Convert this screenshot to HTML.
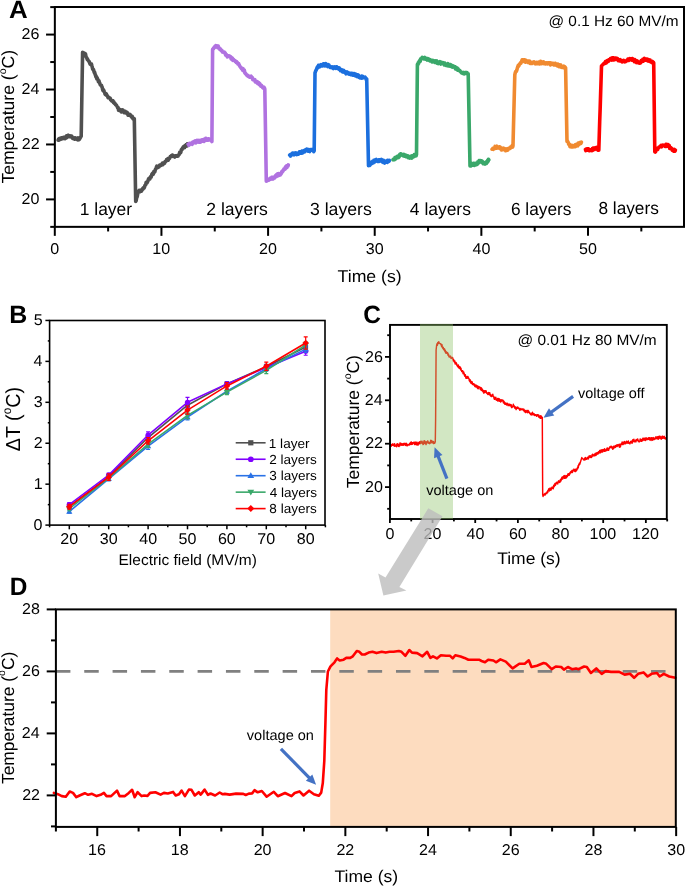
<!DOCTYPE html>
<html><head><meta charset="utf-8"><style>
html,body{margin:0;padding:0;background:#fff;width:685px;height:887px;overflow:hidden}
svg{display:block;will-change:transform}
text{font-family:"Liberation Sans",sans-serif;fill:#000;text-rendering:geometricPrecision}
</style></head><body>
<svg width="685" height="887" viewBox="0 0 685 887">
<rect width="685" height="887" fill="#fff"/>
<path d="M58.1,140.1 L58.52,139.13 L58.95,140.2 L59.38,138.67 L59.8,139.65 L60.23,139.11 L60.65,138.24 L61.08,139.18 L61.5,137.92 L61.93,138.74 L62.35,137.73 L62.78,137.65 L63.2,138.5 L63.61,137.38 L64.01,137.41 L64.42,138.17 L64.83,138.72 L65.23,137.62 L65.64,136.97 L66.05,138.15 L66.45,135.72 L66.86,137.5 L67.27,135.96 L67.67,135.44 L68.08,135.2 L68.49,135.49 L68.89,136.53 L69.3,135.6 L69.71,136.09 L70.12,136.51 L70.53,136.16 L70.94,136.87 L71.35,136 L71.76,136.28 L72.17,136.92 L72.58,138.35 L72.99,138.04 L73.4,138.5 L73.81,138.38 L74.21,138 L74.62,139.18 L75.03,138.94 L75.43,137.84 L75.84,138.62 L76.25,138.49 L76.65,139.37 L77.06,139.11 L77.47,138.14 L77.87,139.89 L78.28,137.91 L78.69,138.72 L79.09,139.63 L79.5,139.1 L81.2,136.1 L82.6,52.3 L84.6,53.3 L85.04,54.14 L85.49,53.94 L85.93,56.32 L86.37,57.42 L86.81,57.83 L87.26,59.43 L87.7,59.4 L88.11,60.48 L88.52,60.85 L88.93,61.42 L89.34,61.73 L89.75,63.27 L90.16,64.13 L90.57,63.61 L90.98,64.67 L91.39,63.84 L91.8,65.5 L92.21,66.98 L92.62,68.94 L93.03,69.66 L93.44,69.5 L93.85,70.88 L94.26,72.68 L94.67,72.26 L95.08,74.45 L95.49,74.87 L95.9,76.8 L96.33,76.42 L96.75,78.81 L97.18,77.96 L97.6,78.93 L98.03,79.95 L98.45,81.79 L98.88,80.58 L99.3,82.14 L99.72,83.07 L100.15,84.55 L100.58,85.08 L101,85 L101.41,85.39 L101.82,86.64 L102.23,87.42 L102.64,89.6 L103.05,90.7 L103.46,89.68 L103.87,90.66 L104.28,91.72 L104.69,92.64 L105.1,94.2 L105.52,94.75 L105.95,94.3 L106.38,94.01 L106.8,95.34 L107.22,95.55 L107.65,96.36 L108.08,97.62 L108.5,97.32 L108.92,97.24 L109.35,97.82 L109.78,98.29 L110.2,98.2 L110.61,99.68 L111.02,99.91 L111.43,100.66 L111.84,100.99 L112.25,100.54 L112.66,101.08 L113.07,100.89 L113.48,102.68 L113.89,101.83 L114.3,103.4 L114.72,103.29 L115.15,103.77 L115.58,104.79 L116,104.69 L116.42,105.16 L116.85,106.11 L117.28,106.59 L117.7,107.81 L118.12,107.59 L118.55,110.22 L118.98,110.18 L119.4,110.5 L119.81,110.18 L120.21,110.27 L120.62,109.73 L121.03,111.52 L121.43,111.91 L121.84,110.7 L122.25,110.79 L122.65,109.97 L123.06,110.24 L123.47,111.05 L123.87,111.1 L124.28,112.69 L124.69,111.32 L125.09,111.22 L125.5,112.6 L125.92,112.92 L126.35,112.25 L126.78,113.45 L127.2,112.46 L127.62,113.92 L128.05,115.25 L128.47,115.22 L128.9,115.07 L129.32,114.28 L129.75,114.78 L130.17,114.55 L130.6,115.6 L131.01,116.02 L131.42,116.96 L131.83,116.22 L132.24,116.31 L132.66,118.07 L133.07,118.83 L133.48,118.86 L133.89,119.09 L134.3,118.7 L135.7,201.5 L136.14,200.6 L136.59,197.9 L137.03,197.13 L137.47,195.27 L137.91,193.01 L138.36,191.54 L138.8,191.2 L139.21,190.42 L139.62,191.26 L140.03,191.7 L140.44,190.27 L140.85,191.25 L141.26,191.17 L141.67,190.89 L142.08,189.28 L142.49,188.73 L142.9,189.2 L143.31,187.74 L143.71,187.99 L144.12,187.9 L144.53,187.01 L144.93,185.39 L145.34,185.05 L145.75,184.65 L146.15,182.25 L146.56,183.03 L146.97,183.02 L147.37,182.11 L147.78,181.42 L148.19,180.16 L148.59,178.84 L149,179 L149.41,179.16 L149.82,179.02 L150.23,177.08 L150.64,176.53 L151.05,177.29 L151.46,176.2 L151.87,174.31 L152.28,173.65 L152.69,173.15 L153.1,174.4 L153.51,173.49 L153.92,171.23 L154.33,172.19 L154.74,171.89 L155.15,170.44 L155.56,169.03 L155.97,168.84 L156.38,167.16 L156.79,166.21 L157.2,166.7 L157.61,166.6 L158.02,167.42 L158.43,166.06 L158.84,166.95 L159.25,166.68 L159.66,165.04 L160.07,164.98 L160.48,164.92 L160.89,164.63 L161.3,165.3 L161.71,164.17 L162.12,164.2 L162.53,163.16 L162.94,164.68 L163.35,162.99 L163.76,162.9 L164.17,162.85 L164.58,163.27 L164.99,161.76 L165.4,161.6 L165.81,161.38 L166.21,161.07 L166.62,159.56 L167.03,160.28 L167.43,159.36 L167.84,158.64 L168.25,160.25 L168.65,158.34 L169.06,158.54 L169.47,158.63 L169.87,157.71 L170.28,156.64 L170.69,156.58 L171.09,156.15 L171.5,155.5 L171.91,155.72 L172.31,155.05 L172.72,155.19 L173.13,156.46 L173.53,155.9 L173.94,156.1 L174.35,156.65 L174.75,157.02 L175.16,155.82 L175.57,156.15 L175.97,155.82 L176.38,155.76 L176.79,156.11 L177.19,155.46 L177.6,155.5 L178.01,156.02 L178.43,154.9 L178.84,154.79 L179.25,154.41 L179.67,152.23 L180.08,152.42 L180.49,152.8 L180.91,152 L181.32,149.76 L181.73,149.17 L182.15,149.38 L182.56,147.94 L182.97,147.79 L183.39,146.83 L183.8,147.3 L184.2,147.67 L184.6,147.63 L185,145.54 L185.4,146.58 L185.8,146.13 L186.2,144.58 L186.6,146.05 L187,145.94 L187.4,143.84 L187.8,144.2" fill="none" stroke="#505050" stroke-width="3.6" stroke-linejoin="round" stroke-linecap="round" />
<path d="M188.1,144.2 L188.5,144.12 L188.91,145.29 L189.31,144.86 L189.72,143.21 L190.12,143.81 L190.53,143.97 L190.94,143.5 L191.34,143.11 L191.75,143.36 L192.15,144.29 L192.55,142.38 L192.96,143.43 L193.36,142.94 L193.77,141.7 L194.17,142.22 L194.58,142.7 L194.98,142.21 L195.39,140.91 L195.79,142.89 L196.2,141.5 L196.6,140.9 L197.01,140.32 L197.41,142.06 L197.81,140.81 L198.22,140.43 L198.62,141.1 L199.03,142.24 L199.43,141.98 L199.83,140.6 L200.24,140.28 L200.64,142.06 L201.04,141.17 L201.45,141.42 L201.85,139.9 L202.26,139.76 L202.66,141.21 L203.06,140.52 L203.47,139.62 L203.87,141.49 L204.27,140.56 L204.68,140.75 L205.08,138.83 L205.49,140.47 L205.89,138.37 L206.29,140.08 L206.7,138.89 L207.1,138.8 L207.5,139.15 L207.9,140.27 L208.3,138.92 L208.7,138.81 L209.1,139.99 L209.5,139.52 L209.9,139.44 L210.3,139.79 L210.7,139.75 L211.1,140.33 L211.5,140.82 L211.9,141.5 L212.6,49.4 L213,49.7 L213.4,48.24 L213.8,48.42 L214.2,47.32 L214.6,47.4 L215,46.28 L215.4,46.51 L215.8,45.62 L216.2,47.01 L216.6,46.25 L217,45.8 L217.41,46.15 L217.82,47.66 L218.23,46.08 L218.64,48.2 L219.05,47.68 L219.45,48.24 L219.86,49.47 L220.27,48.82 L220.68,49.5 L221.09,50.34 L221.5,50.3 L221.92,50.35 L222.33,51.94 L222.75,52.07 L223.16,52.32 L223.58,52.19 L223.99,52.47 L224.41,52.19 L224.82,52.8 L225.24,53.08 L225.65,55.11 L226.07,54.37 L226.48,54.57 L226.9,55.8 L227.32,56.86 L227.75,56.54 L228.17,55.78 L228.59,55.85 L229.02,56.14 L229.44,56.7 L229.86,56.15 L230.29,57.01 L230.71,56.83 L231.14,58.87 L231.56,59.26 L231.98,58.6 L232.41,58.24 L232.83,60.33 L233.25,59.12 L233.68,59.59 L234.1,60.3 L234.52,60.43 L234.93,61.07 L235.35,61.55 L235.76,61.24 L236.18,62.39 L236.59,61.6 L237.01,62.64 L237.42,62.64 L237.84,63.8 L238.25,63.35 L238.67,63.72 L239.08,64.81 L239.5,65.7 L239.91,66.21 L240.31,67.18 L240.72,67.4 L241.12,67.98 L241.53,68.81 L241.93,68.08 L242.34,68.37 L242.74,70.39 L243.15,68.82 L243.56,70.76 L243.96,71.13 L244.37,70.25 L244.77,72.71 L245.18,73.4 L245.58,73.33 L245.99,74.14 L246.39,74.89 L246.8,74.7 L247.22,74.94 L247.65,75.97 L248.07,76.13 L248.49,76.41 L248.92,76.07 L249.34,77.04 L249.76,76.77 L250.19,77.03 L250.61,76.23 L251.04,76.16 L251.46,76.8 L251.88,77.75 L252.31,77.54 L252.73,79.7 L253.15,79.44 L253.58,80 L254,80.1 L254.42,80.41 L254.84,79.58 L255.26,81.82 L255.68,82.03 L256.1,81.78 L256.52,82.19 L256.94,82.82 L257.36,81.69 L257.78,83.57 L258.2,82.67 L258.62,82.51 L259.04,83.24 L259.46,84.62 L259.88,83.63 L260.3,84.6 L260.71,86.15 L261.12,85.4 L261.53,85.55 L261.94,86.19 L262.35,87.09 L262.75,87.7 L263.16,87.74 L263.57,88.22 L263.98,87.27 L264.39,87.84 L264.8,89.1 L266.3,181.2 L266.72,180.47 L267.13,180.84 L267.55,179.25 L267.97,179.1 L268.38,179.34 L268.8,180.05 L269.22,179.84 L269.63,179.54 L270.05,178.36 L270.47,178.75 L270.88,178.47 L271.3,178.32 L271.72,177.34 L272.13,179.05 L272.55,177.23 L272.97,178.95 L273.38,178.7 L273.8,177.5 L274.22,177.94 L274.65,177.97 L275.07,176.4 L275.49,175.64 L275.92,175.18 L276.34,176.62 L276.76,174.53 L277.19,175.09 L277.61,173.83 L278.04,174.65 L278.46,175.58 L278.88,173.51 L279.31,175.06 L279.73,174.22 L280.15,175.02 L280.58,174.49 L281,173.9 L281.41,173.31 L281.81,171.64 L282.22,171.03 L282.62,171.64 L283.03,170.98 L283.43,170.07 L283.84,169.12 L284.24,169.05 L284.65,168.42 L285.06,169.24 L285.46,166.79 L285.87,168.14 L286.27,167.92 L286.68,165.75 L287.08,167.24 L287.49,166.29 L287.89,166.3 L288.3,164.9" fill="none" stroke="#b072e0" stroke-width="3.6" stroke-linejoin="round" stroke-linecap="round" />
<path d="M289.6,155.1 L290.02,154.71 L290.43,156.03 L290.85,154.91 L291.26,154.23 L291.68,154.26 L292.09,153.76 L292.51,153.08 L292.93,153.07 L293.34,154.7 L293.76,153.29 L294.17,154.81 L294.59,153.11 L295.01,153.11 L295.42,153.65 L295.84,152.84 L296.25,153.23 L296.67,154.59 L297.08,154.37 L297.5,153.4 L297.9,154.29 L298.3,154.25 L298.7,153.21 L299.1,153.52 L299.5,151.81 L299.9,153.34 L300.3,152.57 L300.7,153.19 L301.1,152.83 L301.5,151.86 L301.9,151.19 L302.3,153.08 L302.7,150.95 L303.1,151.56 L303.5,151.04 L303.9,150.71 L304.3,151.55 L304.7,151.91 L305.1,149.97 L305.5,150.71 L305.9,149.64 L306.3,149.9 L306.72,149.16 L307.13,149.2 L307.55,149.36 L307.96,151.09 L308.38,150.16 L308.79,149.55 L309.21,151.25 L309.63,151.52 L310.04,150.27 L310.46,149.56 L310.87,149.72 L311.29,149.51 L311.71,150.14 L312.12,149.57 L312.54,149.95 L312.95,150.03 L313.37,150.81 L313.78,151.6 L314.2,150.7 L315,72.8 L315.45,71.56 L315.9,70.53 L316.35,69.76 L316.8,68.37 L317.25,67.25 L317.7,66.6 L318.11,67.56 L318.53,65.37 L318.94,66.12 L319.36,66.25 L319.77,66.65 L320.19,64.93 L320.6,64.9 L321.01,64.68 L321.43,64.88 L321.84,64.83 L322.26,65.96 L322.67,65.71 L323.09,65.78 L323.5,63.74 L323.91,63.76 L324.33,65.39 L324.74,65.84 L325.16,64.83 L325.57,65.1 L325.99,63.7 L326.4,64.9 L326.81,65.83 L327.23,66.04 L327.64,66.47 L328.05,64.87 L328.47,64.68 L328.88,64.94 L329.29,65.96 L329.71,66.52 L330.12,67.35 L330.53,67.02 L330.95,67.04 L331.36,67.53 L331.77,66.99 L332.19,67.42 L332.6,67.5 L333.01,66.89 L333.43,68.58 L333.84,67.96 L334.26,67.17 L334.67,66.79 L335.09,67.12 L335.5,68.08 L335.91,68.27 L336.33,66.89 L336.74,66.83 L337.16,68.04 L337.57,68.4 L337.99,68.14 L338.4,67.96 L338.81,69.07 L339.23,67.87 L339.64,68.78 L340.06,69.37 L340.47,70.78 L340.89,70.24 L341.3,70.1 L341.7,69.7 L342.1,69.96 L342.5,71.91 L342.9,71.52 L343.3,70.8 L343.7,70.35 L344.1,71.73 L344.5,72.39 L344.9,72.01 L345.3,71.85 L345.7,73.07 L346.1,73.78 L346.5,72.2 L346.9,71.83 L347.3,72.65 L347.7,72.95 L348.1,73.67 L348.5,72.6 L348.9,74.13 L349.3,74.09 L349.7,73.62 L350.1,73.7 L350.51,73.32 L350.93,74.6 L351.34,73.26 L351.76,73.3 L352.17,74.66 L352.59,73.61 L353,75.26 L353.41,74.23 L353.83,73.56 L354.24,73.71 L354.66,74.3 L355.07,75.08 L355.49,75.94 L355.9,74.19 L356.31,74.96 L356.73,74.71 L357.14,76.72 L357.56,74.9 L357.97,74.86 L358.39,75.06 L358.8,76.3 L359.22,77.33 L359.63,77.09 L360.05,77.84 L360.46,77.79 L360.88,76.46 L361.29,76.23 L361.71,78.15 L362.13,77.81 L362.54,76.21 L362.96,77.86 L363.37,77.33 L363.79,77.48 L364.21,77.54 L364.62,77.31 L365.04,77.07 L365.45,77.89 L365.87,78.22 L366.28,79.83 L366.7,78.9 L368.5,165.6 L368.92,164.54 L369.33,164.55 L369.75,165.31 L370.16,164.96 L370.58,163.67 L370.99,162.4 L371.41,163.07 L371.83,162.47 L372.24,163.43 L372.66,161.41 L373.07,161.63 L373.49,162.71 L373.91,160.44 L374.32,161.16 L374.74,161.93 L375.15,161.62 L375.57,159.69 L375.98,159.48 L376.4,160.4 L376.81,159.81 L377.23,160.99 L377.64,161.35 L378.06,160 L378.47,159.84 L378.89,161.48 L379.3,160.66 L379.71,159.81 L380.13,160.9 L380.54,159.94 L380.96,159.92 L381.37,159.43 L381.79,161.4 L382.2,161.95 L382.61,161.44 L383.03,162.34 L383.44,160.3 L383.86,160.97 L384.27,161.71 L384.69,163.03 L385.1,162.1 L385.54,161.66 L385.98,161.16 L386.42,161.42 L386.86,161.4 L387.3,162.28 L387.74,160.32 L388.18,161.64 L388.62,161.31 L389.06,161.34 L389.5,160.4" fill="none" stroke="#1b6fde" stroke-width="3.6" stroke-linejoin="round" stroke-linecap="round" />
<path d="M392.9,159.8 L393.32,159.17 L393.73,158.92 L394.15,158.8 L394.56,159.59 L394.98,157.68 L395.39,157.74 L395.81,158.86 L396.23,157.42 L396.64,156.76 L397.06,156.41 L397.47,157.32 L397.89,156.44 L398.31,157.67 L398.72,157.1 L399.14,157.02 L399.55,154.94 L399.97,154.17 L400.38,153.87 L400.8,154.5 L401.2,153.96 L401.61,154.5 L402.01,155.09 L402.42,155.32 L402.82,155.59 L403.22,155.93 L403.63,155.59 L404.03,154.39 L404.43,156.23 L404.84,155.07 L405.24,155.87 L405.65,155.55 L406.05,156.58 L406.45,155.44 L406.86,155.7 L407.26,155.84 L407.67,155.77 L408.07,157.61 L408.47,156.93 L408.88,156.37 L409.28,156.59 L409.68,158.08 L410.09,156.96 L410.49,156.35 L410.9,157.79 L411.3,157.1 L411.73,158.06 L412.17,155.71 L412.6,156.39 L413.03,157 L413.47,156.83 L413.9,156.79 L414.33,154.48 L414.77,154.87 L415.2,154.24 L415.63,154.19 L416.07,155.85 L416.5,154.5 L417.4,64.3 L417.8,64.77 L418.2,62.87 L418.6,63.49 L419,61.92 L419.4,60.91 L419.8,61.58 L420.2,61.42 L420.6,58.84 L421,59.46 L421.4,58.95 L421.8,58.1 L422.21,57.31 L422.63,57.54 L423.04,57.74 L423.46,58.64 L423.87,58.84 L424.29,57.84 L424.7,57.45 L425.11,58.28 L425.53,59.2 L425.94,58.09 L426.36,58.53 L426.77,58.45 L427.19,60.05 L427.6,59.64 L428.01,58.66 L428.43,58.93 L428.84,59.82 L429.26,60.37 L429.67,60.77 L430.09,59.64 L430.5,60.8 L430.92,60.6 L431.34,60.32 L431.75,60.4 L432.17,61.97 L432.59,60.45 L433.01,61.08 L433.42,60.6 L433.84,60.77 L434.26,61.94 L434.68,62.44 L435.09,61.1 L435.51,60.88 L435.93,62.33 L436.35,61.25 L436.76,60.96 L437.18,63.28 L437.6,62.5 L438.01,62.35 L438.43,63.56 L438.84,62.62 L439.26,61.97 L439.67,61.69 L440.09,63.05 L440.5,63.34 L440.91,64.05 L441.33,62.15 L441.74,63.51 L442.16,62.99 L442.57,63.41 L442.99,62.65 L443.4,63.08 L443.81,63.75 L444.23,64.82 L444.64,62.96 L445.06,63.98 L445.47,64.83 L445.89,65.32 L446.3,64.3 L446.7,65.47 L447.1,65.65 L447.5,64.57 L447.9,63.64 L448.3,65.84 L448.7,64.66 L449.1,66 L449.5,65.42 L449.9,66.02 L450.3,64.53 L450.7,66.13 L451.1,64.99 L451.5,65.64 L451.9,66.92 L452.3,67.09 L452.7,65.75 L453.1,66.05 L453.5,66.7 L453.9,67.2 L454.3,67.09 L454.7,66.68 L455.1,67.8 L455.51,69 L455.92,67.19 L456.34,68.69 L456.75,69.4 L457.16,67.92 L457.57,70.09 L457.98,68.61 L458.39,70.01 L458.81,70.2 L459.22,70.75 L459.63,70.34 L460.04,70.98 L460.45,71.74 L460.86,71.73 L461.28,72.65 L461.69,72.51 L462.1,73 L462.51,73.33 L462.91,73.06 L463.32,72.5 L463.73,73.81 L464.13,73.89 L464.54,73.16 L464.95,72.54 L465.35,73.3 L465.76,72.5 L466.17,72.63 L466.57,73.43 L466.98,72.69 L467.39,73.61 L467.79,73.85 L468.2,73.9 L470,165.9 L470.41,164.65 L470.81,165.98 L471.22,165.84 L471.63,164.96 L472.03,163.62 L472.44,164.45 L472.85,163.91 L473.25,165.16 L473.66,163.21 L474.07,164.94 L474.47,165.28 L474.88,164.65 L475.29,164.85 L475.69,163.36 L476.1,164.1 L476.54,163.73 L476.98,164.5 L477.42,164.05 L477.86,161.9 L478.3,163.04 L478.74,163.03 L479.18,160.61 L479.62,160.94 L480.06,161.56 L480.5,160.6 L480.94,161.9 L481.38,160.76 L481.82,162.41 L482.26,161.14 L482.7,162.36 L483.14,163.71 L483.58,162.35 L484.02,162.83 L484.46,163.76 L484.9,164.1 L485.3,162.56 L485.7,162.48 L486.1,162 L486.5,163.43 L486.9,162.38 L487.3,162.47 L487.7,160.29 L488.1,161.34 L488.5,159.31 L488.9,159.8" fill="none" stroke="#3aa86a" stroke-width="3.6" stroke-linejoin="round" stroke-linecap="round" />
<path d="M492,149.2 L492.44,149.27 L492.88,148.34 L493.32,149.32 L493.76,148.29 L494.2,148.09 L494.64,148.56 L495.08,146.43 L495.52,148.3 L495.96,147.17 L496.4,146.6 L496.81,146.18 L497.21,148.07 L497.62,147.22 L498.03,146.85 L498.43,147.96 L498.84,147.33 L499.25,146.84 L499.65,148.37 L500.06,146.91 L500.47,148.96 L500.87,147.8 L501.28,148.93 L501.69,149.96 L502.09,149.2 L502.5,149.2 L502.91,148.82 L503.32,148.14 L503.72,148.29 L504.13,148.64 L504.54,149.82 L504.95,149.45 L505.35,149.72 L505.76,150.7 L506.17,148.94 L506.58,149.24 L506.98,150.33 L507.39,148.88 L507.8,150.1 L508.23,149.39 L508.67,148.42 L509.1,148.66 L509.53,147.97 L509.97,148.47 L510.4,148.11 L510.83,146.82 L511.27,147.46 L511.7,146.74 L512.13,145.56 L512.57,147.11 L513,145.7 L514.8,74.8 L515.23,72.79 L515.67,71.5 L516.1,71.63 L516.53,71.02 L516.97,69.64 L517.4,67.8 L517.84,66.53 L518.28,65.23 L518.72,66.05 L519.16,65.15 L519.6,63.94 L520.04,63.95 L520.48,62.77 L520.92,63.25 L521.36,62.06 L521.8,60.8 L522.21,59.74 L522.63,60.94 L523.04,60.67 L523.46,60.3 L523.87,59.91 L524.29,61.67 L524.7,59.86 L525.11,61.19 L525.53,62.16 L525.94,60.27 L526.36,60.49 L526.77,61.6 L527.19,61.49 L527.6,61.94 L528.01,62.48 L528.43,61.07 L528.84,61.53 L529.26,61.63 L529.67,61.16 L530.09,63.31 L530.5,62.5 L530.91,63.39 L531.32,63.22 L531.72,62.61 L532.13,63.34 L532.54,62.71 L532.95,62.23 L533.35,62.01 L533.76,62.38 L534.17,61.95 L534.58,62.65 L534.98,63.63 L535.39,63.48 L535.8,63.83 L536.21,63.49 L536.62,62.41 L537.02,63.08 L537.43,62.78 L537.84,63.59 L538.25,62.9 L538.65,62.23 L539.06,63.09 L539.47,63.82 L539.88,61.97 L540.28,63.51 L540.69,61.39 L541.1,62.5 L541.5,63.58 L541.91,63.12 L542.31,62.13 L542.72,63.47 L543.12,62.16 L543.52,61.96 L543.93,63.58 L544.33,62.93 L544.73,63.1 L545.14,63.1 L545.54,63.92 L545.95,62.76 L546.35,63.71 L546.75,63.43 L547.16,63.88 L547.56,62.94 L547.97,63.69 L548.37,63.43 L548.77,62.93 L549.18,62.83 L549.58,63.94 L549.98,62.77 L550.39,64.9 L550.79,63.19 L551.2,63.03 L551.6,64.3 L552.01,63.93 L552.43,63.45 L552.84,63.19 L553.26,63.22 L553.67,64.79 L554.09,64.66 L554.5,64.82 L554.91,64.92 L555.33,63.31 L555.74,64.58 L556.16,64.11 L556.57,65.36 L556.99,65.52 L557.4,65.85 L557.81,64.02 L558.23,66.1 L558.64,66.37 L559.06,66.6 L559.47,64.75 L559.89,65.14 L560.3,66 L560.71,65.02 L561.12,67.11 L561.52,67.16 L561.93,66.88 L562.34,67.47 L562.75,67.15 L563.15,66.46 L563.56,66.15 L563.97,66.28 L564.38,68 L564.78,66.82 L565.19,67.23 L565.6,67.8 L567,141.4 L567.42,140.83 L567.84,141.97 L568.27,142.61 L568.69,144.23 L569.11,143.97 L569.53,144.44 L569.96,146.56 L570.38,146.03 L570.8,146.6 L571.21,146.81 L571.62,145.34 L572.02,146.18 L572.43,146.17 L572.84,146.91 L573.25,145.82 L573.65,146.61 L574.06,146.14 L574.47,145.3 L574.88,146.78 L575.28,144.86 L575.69,146.54 L576.1,145.7 L576.51,144.23 L576.92,144.45 L577.32,145.52 L577.73,145.77 L578.14,143.16 L578.55,144.06 L578.95,143.79 L579.36,144.26 L579.77,142.52 L580.18,142.99 L580.58,142.37 L580.99,143.27 L581.4,142.2" fill="none" stroke="#f08a30" stroke-width="3.6" stroke-linejoin="round" stroke-linecap="round" />
<path d="M585.4,149.4 L585.81,150.52 L586.21,149 L586.62,148.89 L587.03,150.11 L587.44,149.68 L587.84,148.81 L588.25,150.13 L588.66,148.85 L589.06,150.61 L589.47,150.44 L589.88,150.72 L590.29,150.39 L590.69,149.8 L591.1,150.2 L591.54,149.73 L591.97,150.7 L592.41,148.55 L592.85,150.26 L593.28,147.97 L593.72,148.19 L594.15,148.1 L594.59,149.42 L595.03,148.24 L595.46,147.73 L595.9,147.8 L596.31,147.5 L596.73,148.39 L597.14,148.9 L597.56,149.78 L597.97,150.12 L598.39,150.21 L598.8,150.2 L599.25,135.73 L599.7,121.27 L600.15,108.87 L600.6,94.39 L601.05,80.53 L601.5,65.9 L603.9,63.5 L604.3,63.09 L604.7,63.62 L605.1,62.89 L605.5,61.54 L605.9,62.08 L606.3,62.82 L606.7,61 L607.1,60.63 L607.5,60.62 L607.9,61.32 L608.3,61.39 L608.7,60.3 L609.13,59.5 L609.55,59.49 L609.98,59.76 L610.41,58.69 L610.83,58.89 L611.26,58.36 L611.69,60.05 L612.11,59.35 L612.54,57.83 L612.97,59.88 L613.39,57.8 L613.82,58.47 L614.25,59.89 L614.67,59.42 L615.1,58.7 L615.5,58.14 L615.91,59.36 L616.32,58.26 L616.72,58.66 L617.12,59.27 L617.53,58.58 L617.94,59.62 L618.34,60.73 L618.75,60.66 L619.15,60.37 L619.56,60.76 L619.96,60.43 L620.37,59.73 L620.77,60.91 L621.18,60.5 L621.58,61.38 L621.99,61.86 L622.39,60.79 L622.8,61.2 L623.2,61.1 L623.6,60.38 L624,61.49 L624.4,61.8 L624.8,61.48 L625.2,61.23 L625.6,61.52 L626,61.04 L626.4,60.88 L626.8,60.36 L627.2,59.95 L627.6,60.54 L628,59.09 L628.4,59.7 L628.8,60.4 L629.2,60.06 L629.6,59.69 L630,58.61 L630.4,58.86 L630.8,58.76 L631.2,58.7 L631.6,59.34 L632,60.18 L632.4,58.61 L632.8,59.97 L633.2,60.49 L633.6,59.78 L634,60.25 L634.4,61.63 L634.8,59.61 L635.2,61.05 L635.6,60.3 L636,61.97 L636.4,62.53 L636.8,61.69 L637.2,60.86 L637.6,62.18 L638,62.27 L638.4,62.87 L638.8,62.55 L639.2,62.7 L639.61,63.22 L640.02,62.22 L640.43,61.68 L640.83,62.71 L641.24,60.67 L641.65,61.54 L642.06,60.58 L642.47,61.2 L642.88,59.39 L643.28,61.2 L643.69,59.42 L644.1,59.5 L644.5,58.35 L644.9,59.35 L645.3,59.38 L645.7,60.07 L646.1,59.26 L646.5,59.07 L646.9,59 L647.3,60.26 L647.7,60.92 L648.1,60.12 L648.5,59.57 L648.9,61.15 L649.3,60.36 L649.7,60.12 L650.1,60.1 L650.5,61.85 L650.9,62.11 L651.3,61.88 L651.7,61.68 L652.1,62.09 L652.5,61.47 L652.9,63.43 L653.3,62.16 L653.7,62.7 L654.8,151.8 L655.21,152.12 L655.62,151.67 L656.03,150.39 L656.44,149.53 L656.86,149.69 L657.27,148.23 L657.68,149.49 L658.09,147.9 L658.5,147.8 L658.94,147.02 L659.37,147.07 L659.81,146.55 L660.25,146.75 L660.68,145.96 L661.12,145.3 L661.55,146.81 L661.99,145.53 L662.43,145.22 L662.86,145.14 L663.3,145.4 L663.7,145.23 L664.1,145.73 L664.5,145.78 L664.9,145.07 L665.3,146.43 L665.7,146.25 L666.1,144.34 L666.5,146.19 L666.9,146.37 L667.3,146.08 L667.7,144.54 L668.1,145.4 L668.51,146.2 L668.92,145.2 L669.33,145.67 L669.74,148.4 L670.15,148.17 L670.56,147.68 L670.97,147.8 L671.38,148.38 L671.79,149.08 L672.2,150.2 L672.66,149.83 L673.11,149.37 L673.57,151.17 L674.03,150.9 L674.49,149.4 L674.94,151.14 L675.4,150.2" fill="none" stroke="#ff0000" stroke-width="3.6" stroke-linejoin="round" stroke-linecap="round" />
<rect x="54.85" y="7" width="629.15" height="219.85" fill="none" stroke="#000" stroke-width="2"/>
<line x1="50.25" y1="226.87" x2="54.85" y2="226.87" stroke="#000" stroke-width="2"/>
<line x1="46.05" y1="199.4" x2="54.85" y2="199.4" stroke="#000" stroke-width="2"/>
<text transform="translate(21.61,203.90) scale(1.0300,1)" font-size="15.6" font-weight="normal">20</text>
<line x1="50.25" y1="171.93" x2="54.85" y2="171.93" stroke="#000" stroke-width="2"/>
<line x1="46.05" y1="144.46" x2="54.85" y2="144.46" stroke="#000" stroke-width="2"/>
<text transform="translate(21.77,148.96) scale(1.0300,1)" font-size="15.6" font-weight="normal">22</text>
<line x1="50.25" y1="116.99" x2="54.85" y2="116.99" stroke="#000" stroke-width="2"/>
<line x1="46.05" y1="89.52" x2="54.85" y2="89.52" stroke="#000" stroke-width="2"/>
<text transform="translate(21.45,94.02) scale(1.0300,1)" font-size="15.6" font-weight="normal">24</text>
<line x1="50.25" y1="62.05" x2="54.85" y2="62.05" stroke="#000" stroke-width="2"/>
<line x1="46.05" y1="34.58" x2="54.85" y2="34.58" stroke="#000" stroke-width="2"/>
<text transform="translate(21.61,39.08) scale(1.0300,1)" font-size="15.6" font-weight="normal">26</text>
<line x1="50.25" y1="7.11" x2="54.85" y2="7.11" stroke="#000" stroke-width="2"/>
<line x1="54.8" y1="226.85" x2="54.8" y2="235.85" stroke="#000" stroke-width="2"/>
<text transform="translate(50.30,254.10) scale(1.0300,1)" font-size="15.6" font-weight="normal">0</text>
<line x1="108.12" y1="226.85" x2="108.12" y2="231.45" stroke="#000" stroke-width="2"/>
<line x1="161.44" y1="226.85" x2="161.44" y2="235.85" stroke="#000" stroke-width="2"/>
<text transform="translate(152.20,254.10) scale(1.0300,1)" font-size="15.6" font-weight="normal">10</text>
<line x1="214.76" y1="226.85" x2="214.76" y2="231.45" stroke="#000" stroke-width="2"/>
<line x1="268.08" y1="226.85" x2="268.08" y2="235.85" stroke="#000" stroke-width="2"/>
<text transform="translate(259.08,254.10) scale(1.0300,1)" font-size="15.6" font-weight="normal">20</text>
<line x1="321.4" y1="226.85" x2="321.4" y2="231.45" stroke="#000" stroke-width="2"/>
<line x1="374.72" y1="226.85" x2="374.72" y2="235.85" stroke="#000" stroke-width="2"/>
<text transform="translate(365.80,254.10) scale(1.0300,1)" font-size="15.6" font-weight="normal">30</text>
<line x1="428.04" y1="226.85" x2="428.04" y2="231.45" stroke="#000" stroke-width="2"/>
<line x1="481.36" y1="226.85" x2="481.36" y2="235.85" stroke="#000" stroke-width="2"/>
<text transform="translate(472.60,254.10) scale(1.0300,1)" font-size="15.6" font-weight="normal">40</text>
<line x1="534.68" y1="226.85" x2="534.68" y2="231.45" stroke="#000" stroke-width="2"/>
<line x1="588" y1="226.85" x2="588" y2="235.85" stroke="#000" stroke-width="2"/>
<text transform="translate(579.08,254.10) scale(1.0300,1)" font-size="15.6" font-weight="normal">50</text>
<line x1="641.32" y1="226.85" x2="641.32" y2="231.45" stroke="#000" stroke-width="2"/>
<text transform="translate(337.55,281.60) scale(1.0406,1)" font-size="17" font-weight="normal">Time (s)</text>
<text transform="translate(14.20,183.55) rotate(-90) scale(1.0025,1)" font-size="17.5" font-weight="normal">Temperature (<tspan font-size="60%" dy="-0.82em">o</tspan><tspan dy="0.49em">C)</tspan></text>
<text transform="translate(79.70,214.60) scale(0.9970,1)" font-size="17.5" font-weight="normal">1 layer</text>
<text transform="translate(206.32,215.20) scale(1.0025,1)" font-size="17.5" font-weight="normal">2 layers</text>
<text transform="translate(309.99,214.80) scale(1.0079,1)" font-size="17.5" font-weight="normal">3 layers</text>
<text transform="translate(409.85,214.60) scale(0.9954,1)" font-size="17.5" font-weight="normal">4 layers</text>
<text transform="translate(510.94,214.70) scale(0.9875,1)" font-size="17.5" font-weight="normal">6 layers</text>
<text transform="translate(598.41,213.90) scale(0.9863,1)" font-size="17.5" font-weight="normal">8 layers</text>
<text transform="translate(548.47,26.10) scale(1.0387,1)" font-size="14.8" font-weight="normal">@ 0.1 Hz 60 MV/m</text>
<text transform="translate(9.12,17.50) scale(1.0364,1)" font-size="25" font-weight="bold">A</text>
<path d="M69.3,506.68 L108.7,476.8 L148.1,437.51 L187.5,405.18 L226.9,383.89 L266.3,366.7 L305.7,347.05" fill="none" stroke="#505050" stroke-width="1.6" stroke-linejoin="round" stroke-linecap="round" />
<path d="M69.3,505.04 V508.32 M67.3,505.04 h4 M67.3,508.32 h4" stroke="#505050" stroke-width="1.2" fill="none"/>
<rect x="66.9" y="504.28" width="4.8" height="4.8" fill="#505050"/>
<path d="M108.7,474.76 V478.85 M106.7,474.76 h4 M106.7,478.85 h4" stroke="#505050" stroke-width="1.2" fill="none"/>
<rect x="106.3" y="474.4" width="4.8" height="4.8" fill="#505050"/>
<path d="M148.1,435.05 V439.97 M146.1,435.05 h4 M146.1,439.97 h4" stroke="#505050" stroke-width="1.2" fill="none"/>
<rect x="145.7" y="435.11" width="4.8" height="4.8" fill="#505050"/>
<path d="M187.5,402.31 V408.04 M185.5,402.31 h4 M185.5,408.04 h4" stroke="#505050" stroke-width="1.2" fill="none"/>
<rect x="185.1" y="402.78" width="4.8" height="4.8" fill="#505050"/>
<path d="M226.9,381.85 V385.94 M224.9,381.85 h4 M224.9,385.94 h4" stroke="#505050" stroke-width="1.2" fill="none"/>
<rect x="224.5" y="381.49" width="4.8" height="4.8" fill="#505050"/>
<path d="M266.3,364.25 V369.16 M264.3,364.25 h4 M264.3,369.16 h4" stroke="#505050" stroke-width="1.2" fill="none"/>
<rect x="263.9" y="364.3" width="4.8" height="4.8" fill="#505050"/>
<path d="M305.7,343.78 V350.33 M303.7,343.78 h4 M303.7,350.33 h4" stroke="#505050" stroke-width="1.2" fill="none"/>
<rect x="303.3" y="344.65" width="4.8" height="4.8" fill="#505050"/>
<path d="M69.3,504.64 L108.7,475.17 L148.1,435.05 L187.5,402.31 L226.9,383.89 L266.3,367.52 L305.7,351.15" fill="none" stroke="#8000ff" stroke-width="1.6" stroke-linejoin="round" stroke-linecap="round" />
<path d="M69.3,502.59 V506.68 M67.3,502.59 h4 M67.3,506.68 h4" stroke="#8000ff" stroke-width="1.2" fill="none"/>
<circle cx="69.3" cy="504.64" r="2.64" fill="#8000ff"/>
<path d="M108.7,473.12 V477.21 M106.7,473.12 h4 M106.7,477.21 h4" stroke="#8000ff" stroke-width="1.2" fill="none"/>
<circle cx="108.7" cy="475.17" r="2.64" fill="#8000ff"/>
<path d="M148.1,431.78 V438.33 M146.1,431.78 h4 M146.1,438.33 h4" stroke="#8000ff" stroke-width="1.2" fill="none"/>
<circle cx="148.1" cy="435.05" r="2.64" fill="#8000ff"/>
<path d="M187.5,397.4 V407.22 M185.5,397.4 h4 M185.5,407.22 h4" stroke="#8000ff" stroke-width="1.2" fill="none"/>
<circle cx="187.5" cy="402.31" r="2.64" fill="#8000ff"/>
<path d="M226.9,381.85 V385.94 M224.9,381.85 h4 M224.9,385.94 h4" stroke="#8000ff" stroke-width="1.2" fill="none"/>
<circle cx="226.9" cy="383.89" r="2.64" fill="#8000ff"/>
<path d="M266.3,365.06 V369.98 M264.3,365.06 h4 M264.3,369.98 h4" stroke="#8000ff" stroke-width="1.2" fill="none"/>
<circle cx="266.3" cy="367.52" r="2.64" fill="#8000ff"/>
<path d="M305.7,347.05 V355.24 M303.7,347.05 h4 M303.7,355.24 h4" stroke="#8000ff" stroke-width="1.2" fill="none"/>
<circle cx="305.7" cy="351.15" r="2.64" fill="#8000ff"/>
<path d="M69.3,511.59 L108.7,478.85 L148.1,446.11 L187.5,417.04 L226.9,391.26 L266.3,368.75 L305.7,349.1" fill="none" stroke="#2a72e6" stroke-width="1.6" stroke-linejoin="round" stroke-linecap="round" />
<path d="M69.3,509.96 V513.23 M67.3,509.96 h4 M67.3,513.23 h4" stroke="#2a72e6" stroke-width="1.2" fill="none"/>
<path d="M69.3,508.47 L72.42,513.75 L66.18,513.75 Z" fill="#2a72e6"/>
<path d="M108.7,476.8 V480.9 M106.7,476.8 h4 M106.7,480.9 h4" stroke="#2a72e6" stroke-width="1.2" fill="none"/>
<path d="M108.7,475.73 L111.82,481.01 L105.58,481.01 Z" fill="#2a72e6"/>
<path d="M148.1,442.83 V449.38 M146.1,442.83 h4 M146.1,449.38 h4" stroke="#2a72e6" stroke-width="1.2" fill="none"/>
<path d="M148.1,442.99 L151.22,448.27 L144.98,448.27 Z" fill="#2a72e6"/>
<path d="M187.5,414.18 V419.91 M185.5,414.18 h4 M185.5,419.91 h4" stroke="#2a72e6" stroke-width="1.2" fill="none"/>
<path d="M187.5,413.92 L190.62,419.2 L184.38,419.2 Z" fill="#2a72e6"/>
<path d="M226.9,388.8 V393.71 M224.9,388.8 h4 M224.9,393.71 h4" stroke="#2a72e6" stroke-width="1.2" fill="none"/>
<path d="M226.9,388.14 L230.02,393.42 L223.78,393.42 Z" fill="#2a72e6"/>
<path d="M266.3,366.29 V371.2 M264.3,366.29 h4 M264.3,371.2 h4" stroke="#2a72e6" stroke-width="1.2" fill="none"/>
<path d="M266.3,365.63 L269.42,370.91 L263.18,370.91 Z" fill="#2a72e6"/>
<path d="M305.7,345.83 V352.38 M303.7,345.83 h4 M303.7,352.38 h4" stroke="#2a72e6" stroke-width="1.2" fill="none"/>
<path d="M305.7,345.98 L308.82,351.26 L302.58,351.26 Z" fill="#2a72e6"/>
<path d="M69.3,508.73 L108.7,478.03 L148.1,444.06 L187.5,415.41 L226.9,392.08 L266.3,370.38 L305.7,345.01" fill="none" stroke="#3aa86a" stroke-width="1.6" stroke-linejoin="round" stroke-linecap="round" />
<path d="M69.3,506.68 V510.77 M67.3,506.68 h4 M67.3,510.77 h4" stroke="#3aa86a" stroke-width="1.2" fill="none"/>
<path d="M69.3,511.85 L72.42,506.57 L66.18,506.57 Z" fill="#3aa86a"/>
<path d="M108.7,475.98 V480.08 M106.7,475.98 h4 M106.7,480.08 h4" stroke="#3aa86a" stroke-width="1.2" fill="none"/>
<path d="M108.7,481.15 L111.82,475.87 L105.58,475.87 Z" fill="#3aa86a"/>
<path d="M148.1,440.78 V447.33 M146.1,440.78 h4 M146.1,447.33 h4" stroke="#3aa86a" stroke-width="1.2" fill="none"/>
<path d="M148.1,447.18 L151.22,441.9 L144.98,441.9 Z" fill="#3aa86a"/>
<path d="M187.5,412.13 V418.68 M185.5,412.13 h4 M185.5,418.68 h4" stroke="#3aa86a" stroke-width="1.2" fill="none"/>
<path d="M187.5,418.53 L190.62,413.25 L184.38,413.25 Z" fill="#3aa86a"/>
<path d="M226.9,389.62 V394.53 M224.9,389.62 h4 M224.9,394.53 h4" stroke="#3aa86a" stroke-width="1.2" fill="none"/>
<path d="M226.9,395.2 L230.02,389.92 L223.78,389.92 Z" fill="#3aa86a"/>
<path d="M266.3,367.11 V373.66 M264.3,367.11 h4 M264.3,373.66 h4" stroke="#3aa86a" stroke-width="1.2" fill="none"/>
<path d="M266.3,373.5 L269.42,368.22 L263.18,368.22 Z" fill="#3aa86a"/>
<path d="M305.7,341.73 V348.28 M303.7,341.73 h4 M303.7,348.28 h4" stroke="#3aa86a" stroke-width="1.2" fill="none"/>
<path d="M305.7,348.13 L308.82,342.85 L302.58,342.85 Z" fill="#3aa86a"/>
<path d="M69.3,506.68 L108.7,477.21 L148.1,440.78 L187.5,410.09 L226.9,385.94 L266.3,366.29 L305.7,342.96" fill="none" stroke="#ff0000" stroke-width="1.6" stroke-linejoin="round" stroke-linecap="round" />
<path d="M69.3,504.23 V509.14 M67.3,504.23 h4 M67.3,509.14 h4" stroke="#ff0000" stroke-width="1.2" fill="none"/>
<path d="M69.3,503.44 L72.54,506.68 L69.3,509.92 L66.06,506.68 Z" fill="#ff0000"/>
<path d="M108.7,473.94 V480.49 M106.7,473.94 h4 M106.7,480.49 h4" stroke="#ff0000" stroke-width="1.2" fill="none"/>
<path d="M108.7,473.97 L111.94,477.21 L108.7,480.45 L105.46,477.21 Z" fill="#ff0000"/>
<path d="M148.1,437.51 V444.06 M146.1,437.51 h4 M146.1,444.06 h4" stroke="#ff0000" stroke-width="1.2" fill="none"/>
<path d="M148.1,437.54 L151.34,440.78 L148.1,444.02 L144.86,440.78 Z" fill="#ff0000"/>
<path d="M187.5,405.99 V414.18 M185.5,405.99 h4 M185.5,414.18 h4" stroke="#ff0000" stroke-width="1.2" fill="none"/>
<path d="M187.5,406.85 L190.74,410.09 L187.5,413.33 L184.26,410.09 Z" fill="#ff0000"/>
<path d="M226.9,382.66 V389.21 M224.9,382.66 h4 M224.9,389.21 h4" stroke="#ff0000" stroke-width="1.2" fill="none"/>
<path d="M226.9,382.7 L230.14,385.94 L226.9,389.18 L223.66,385.94 Z" fill="#ff0000"/>
<path d="M266.3,362.2 V370.38 M264.3,362.2 h4 M264.3,370.38 h4" stroke="#ff0000" stroke-width="1.2" fill="none"/>
<path d="M266.3,363.05 L269.54,366.29 L266.3,369.53 L263.06,366.29 Z" fill="#ff0000"/>
<path d="M305.7,336.82 V349.1 M303.7,336.82 h4 M303.7,349.1 h4" stroke="#ff0000" stroke-width="1.2" fill="none"/>
<path d="M305.7,339.72 L308.94,342.96 L305.7,346.2 L302.46,342.96 Z" fill="#ff0000"/>
<rect x="49.6" y="320.5" width="275.4" height="204.6" fill="none" stroke="#000" stroke-width="1.6"/>
<line x1="45.4" y1="525.1" x2="49.6" y2="525.1" stroke="#000" stroke-width="1.5"/>
<text transform="translate(33.59,529.60) scale(1.0300,1)" font-size="15.6" font-weight="normal">0</text>
<line x1="47.8" y1="504.64" x2="49.6" y2="504.64" stroke="#000" stroke-width="1.5"/>
<line x1="45.4" y1="484.17" x2="49.6" y2="484.17" stroke="#000" stroke-width="1.5"/>
<text transform="translate(33.76,488.67) scale(1.0300,1)" font-size="15.6" font-weight="normal">1</text>
<line x1="47.8" y1="463.71" x2="49.6" y2="463.71" stroke="#000" stroke-width="1.5"/>
<line x1="45.4" y1="443.24" x2="49.6" y2="443.24" stroke="#000" stroke-width="1.5"/>
<text transform="translate(33.76,447.74) scale(1.0300,1)" font-size="15.6" font-weight="normal">2</text>
<line x1="47.8" y1="422.78" x2="49.6" y2="422.78" stroke="#000" stroke-width="1.5"/>
<line x1="45.4" y1="402.31" x2="49.6" y2="402.31" stroke="#000" stroke-width="1.5"/>
<text transform="translate(33.76,406.81) scale(1.0300,1)" font-size="15.6" font-weight="normal">3</text>
<line x1="47.8" y1="381.85" x2="49.6" y2="381.85" stroke="#000" stroke-width="1.5"/>
<line x1="45.4" y1="361.38" x2="49.6" y2="361.38" stroke="#000" stroke-width="1.5"/>
<text transform="translate(33.43,365.88) scale(1.0300,1)" font-size="15.6" font-weight="normal">4</text>
<line x1="47.8" y1="340.92" x2="49.6" y2="340.92" stroke="#000" stroke-width="1.5"/>
<line x1="45.4" y1="320.45" x2="49.6" y2="320.45" stroke="#000" stroke-width="1.5"/>
<text transform="translate(33.76,324.95) scale(1.0300,1)" font-size="15.6" font-weight="normal">5</text>
<line x1="49.6" y1="525.1" x2="49.6" y2="527.3" stroke="#000" stroke-width="1.5"/>
<line x1="69.3" y1="525.1" x2="69.3" y2="529.3" stroke="#000" stroke-width="1.5"/>
<text transform="translate(60.30,544.10) scale(1.0300,1)" font-size="15.6" font-weight="normal">20</text>
<line x1="89" y1="525.1" x2="89" y2="527.3" stroke="#000" stroke-width="1.5"/>
<line x1="108.7" y1="525.1" x2="108.7" y2="529.3" stroke="#000" stroke-width="1.5"/>
<text transform="translate(99.78,544.10) scale(1.0300,1)" font-size="15.6" font-weight="normal">30</text>
<line x1="128.4" y1="525.1" x2="128.4" y2="527.3" stroke="#000" stroke-width="1.5"/>
<line x1="148.1" y1="525.1" x2="148.1" y2="529.3" stroke="#000" stroke-width="1.5"/>
<text transform="translate(139.34,544.10) scale(1.0300,1)" font-size="15.6" font-weight="normal">40</text>
<line x1="167.8" y1="525.1" x2="167.8" y2="527.3" stroke="#000" stroke-width="1.5"/>
<line x1="187.5" y1="525.1" x2="187.5" y2="529.3" stroke="#000" stroke-width="1.5"/>
<text transform="translate(178.58,544.10) scale(1.0300,1)" font-size="15.6" font-weight="normal">50</text>
<line x1="207.2" y1="525.1" x2="207.2" y2="527.3" stroke="#000" stroke-width="1.5"/>
<line x1="226.9" y1="525.1" x2="226.9" y2="529.3" stroke="#000" stroke-width="1.5"/>
<text transform="translate(217.90,544.10) scale(1.0300,1)" font-size="15.6" font-weight="normal">60</text>
<line x1="246.6" y1="525.1" x2="246.6" y2="527.3" stroke="#000" stroke-width="1.5"/>
<line x1="266.3" y1="525.1" x2="266.3" y2="529.3" stroke="#000" stroke-width="1.5"/>
<text transform="translate(257.30,544.10) scale(1.0300,1)" font-size="15.6" font-weight="normal">70</text>
<line x1="286" y1="525.1" x2="286" y2="527.3" stroke="#000" stroke-width="1.5"/>
<line x1="305.7" y1="525.1" x2="305.7" y2="529.3" stroke="#000" stroke-width="1.5"/>
<text transform="translate(296.78,544.10) scale(1.0300,1)" font-size="15.6" font-weight="normal">80</text>
<line x1="325.4" y1="525.1" x2="325.4" y2="527.3" stroke="#000" stroke-width="1.5"/>
<text transform="translate(118.56,565.00) scale(1.0182,1)" font-size="15.2" font-weight="normal">Electric field (MV/m)</text>
<text transform="translate(20.20,451.29) rotate(-90) scale(0.9728,1)" font-size="20.3" font-weight="normal">ΔT (<tspan font-size="60%" dy="-0.77em">o</tspan><tspan dy="0.46em">C)</tspan></text>
<line x1="235.7" y1="442.8" x2="265.6" y2="442.8" stroke="#505050" stroke-width="1.6"/>
<rect x="248.2" y="440.2" width="5.2" height="5.2" fill="#505050"/>
<text transform="translate(268.81,447.50) scale(1.0357,1)" font-size="13.1" font-weight="normal">1 layer</text>
<line x1="235.7" y1="459.25" x2="265.6" y2="459.25" stroke="#8000ff" stroke-width="1.6"/>
<circle cx="250.8" cy="459.25" r="2.86" fill="#8000ff"/>
<text transform="translate(269.22,463.95) scale(1.0357,1)" font-size="13.1" font-weight="normal">2 layers</text>
<line x1="235.7" y1="475.7" x2="265.6" y2="475.7" stroke="#2a72e6" stroke-width="1.6"/>
<path d="M250.8,472.32 L254.18,478.04 L247.42,478.04 Z" fill="#2a72e6"/>
<text transform="translate(269.36,480.40) scale(1.0357,1)" font-size="13.1" font-weight="normal">3 layers</text>
<line x1="235.7" y1="492.15" x2="265.6" y2="492.15" stroke="#3aa86a" stroke-width="1.6"/>
<path d="M250.8,495.53 L254.18,489.81 L247.42,489.81 Z" fill="#3aa86a"/>
<text transform="translate(269.63,496.85) scale(1.0357,1)" font-size="13.1" font-weight="normal">4 layers</text>
<line x1="235.7" y1="508.6" x2="265.6" y2="508.6" stroke="#ff0000" stroke-width="1.6"/>
<path d="M250.8,505.09 L254.31,508.6 L250.8,512.11 L247.29,508.6 Z" fill="#ff0000"/>
<text transform="translate(269.36,513.30) scale(1.0357,1)" font-size="13.1" font-weight="normal">8 layers</text>
<text transform="translate(9.36,322.90) scale(0.9967,1)" font-size="25" font-weight="bold">B</text>
<path d="M390.8,445 L391.05,444.84 L391.31,446.19 L391.56,445.23 L391.81,444.38 L392.07,444.31 L392.32,444.05 L392.57,445.16 L392.83,443.9 L393.08,445.17 L393.34,444.24 L393.59,445.33 L393.84,445.31 L394.1,445.38 L394.35,446.29 L394.6,443.66 L394.86,446.11 L395.11,444.95 L395.36,445.3 L395.62,445.67 L395.87,446.26 L396.12,444.92 L396.38,445.12 L396.63,446.74 L396.89,444.02 L397.14,445.65 L397.39,445.6 L397.65,443.72 L397.9,445.41 L398.15,445.62 L398.41,446.37 L398.66,444.57 L398.91,446.52 L399.17,445.11 L399.42,444.93 L399.68,445.92 L399.93,443.09 L400.18,444.89 L400.44,444.37 L400.69,443.26 L400.94,444.91 L401.2,443.58 L401.45,444.06 L401.7,444.38 L401.96,445.27 L402.21,443.7 L402.46,444.3 L402.72,444.19 L402.97,444.51 L403.23,445.25 L403.48,443.57 L403.73,445.13 L403.99,443.83 L404.24,444.1 L404.49,443.37 L404.75,444.05 L405,444 L405.25,444.81 L405.5,445.44 L405.75,444.57 L406,443.22 L406.25,444.12 L406.5,443.38 L406.75,443.81 L407,445.88 L407.25,444.82 L407.5,444.85 L407.75,445.12 L408,445.36 L408.25,444.5 L408.5,444.54 L408.75,444.6 L409,444.84 L409.25,444.57 L409.5,444.86 L409.75,443.28 L410,444.48 L410.25,443.68 L410.5,444.43 L410.75,442.27 L411,442.35 L411.25,441.89 L411.5,444.09 L411.75,444.49 L412,443.69 L412.25,442.81 L412.5,444.15 L412.75,444.02 L413,443.33 L413.25,442.4 L413.5,442.51 L413.75,442.84 L414,442.51 L414.25,442.93 L414.5,443.65 L414.75,444.6 L415,442.05 L415.25,443.66 L415.5,442.16 L415.75,442.4 L416,444.48 L416.25,443.77 L416.5,444.8 L416.75,443.39 L417,442.09 L417.25,443.25 L417.5,443.9 L417.75,444.97 L418,445.13 L418.25,443.65 L418.5,443.5 L418.75,442.45 L419,443.97 L419.25,442.57 L419.5,442.27 L419.75,441.76 L420,443.1 L420.25,443.62 L420.5,441.79 L420.75,441.2 L421.01,443.18 L421.26,442.82 L421.51,443.06 L421.76,442.89 L422.01,441.16 L422.26,442.99 L422.52,443.44 L422.77,442.9 L423.02,444.52 L423.27,442.28 L423.52,444.21 L423.77,443.26 L424.03,440.93 L424.28,440.73 L424.53,442.44 L424.78,443.2 L425.03,441.25 L425.29,442.2 L425.54,443.72 L425.79,442.29 L426.04,444.64 L426.29,443.2 L426.54,441.61 L426.8,442.22 L427.05,442.53 L427.3,441.81 L427.55,442.21 L427.8,440.85 L428.05,443.05 L428.31,441.99 L428.56,443.07 L428.81,443.27 L429.06,442.87 L429.31,442.51 L429.56,443.44 L429.81,443.65 L430.07,442.91 L430.32,441.99 L430.57,440.9 L430.82,440.14 L431.07,442.83 L431.33,441.96 L431.58,442.27 L431.83,440.73 L432.08,441.49 L432.33,442.82 L432.58,442.6 L432.84,442.12 L433.09,441.46 L433.34,442.03 L433.59,443.62 L433.84,442 L434.09,442.83 L434.35,442.48 L434.6,443.27 L434.85,442.92 L435.1,441.9 L435.3,442 L435.6,420 L435.9,380 L436.1,350 L436.6,345.5 L437,343.8 L437.4,345.2 L437.8,342.4 L438.3,343.6 L438.8,341.8 L438.8,342.6 L440.5,344 L440.75,343.65 L441,344.42 L441.25,345.19 L441.5,346.15 L441.75,346.67 L442,344.62 L442.25,347.15 L442.5,347.53 L442.75,348.13 L443,347.74 L443.25,347.35 L443.5,349.4 L443.75,349.72 L444,349.3 L444.25,349.24 L444.5,348.87 L444.75,350.55 L445,351.6 L445.25,350.3 L445.5,352.2 L445.75,353.08 L446,351.39 L446.25,352.69 L446.5,353.15 L446.75,352.82 L447,352.36 L447.25,352.75 L447.5,353.7 L447.75,352.86 L448,355.2 L448.26,355.42 L448.51,354.23 L448.76,355.52 L449.01,356.73 L449.27,357.01 L449.52,356.26 L449.77,356.39 L450.02,356.96 L450.28,356.1 L450.53,356.37 L450.78,356.6 L451.03,358.31 L451.29,357.53 L451.54,358.26 L451.79,357.97 L452.04,358.46 L452.3,357.59 L452.55,357.46 L452.8,358.9 L453.06,359.77 L453.32,360.7 L453.58,359.43 L453.84,361.17 L454.1,360.96 L454.36,361.95 L454.62,360.94 L454.88,361.14 L455.14,363.98 L455.4,363.8 L455.66,362.9 L455.92,363.29 L456.18,362.59 L456.44,364.36 L456.7,363.75 L456.96,365.6 L457.22,365.48 L457.48,366.02 L457.74,366.81 L458,365.9 L458.25,364.9 L458.5,366.57 L458.75,367.7 L459,366.8 L459.25,368.43 L459.5,368.58 L459.75,366.48 L460,368.24 L460.25,367.94 L460.5,367.43 L460.75,370.05 L461,368.46 L461.25,369.72 L461.5,370.33 L461.75,371.62 L462,371.22 L462.25,370.83 L462.5,371.32 L462.75,370.85 L463,373.44 L463.25,373.85 L463.5,372.03 L463.75,371.92 L464,372.99 L464.25,373.71 L464.5,375.71 L464.75,376.18 L465,375.5 L465.25,374.62 L465.5,375.24 L465.75,377.32 L466.01,378.2 L466.26,377.83 L466.51,377.07 L466.76,377.87 L467.01,378.32 L467.26,376.47 L467.51,377.07 L467.77,376.86 L468.02,376.64 L468.27,378.15 L468.52,377.78 L468.77,378.48 L469.02,378.72 L469.27,380.72 L469.53,379.22 L469.78,381.42 L470.03,380.18 L470.28,379.96 L470.53,382.68 L470.78,380.93 L471.03,383.15 L471.29,383.2 L471.54,383.49 L471.79,381.62 L472.04,382.71 L472.29,381.96 L472.54,384.49 L472.79,384.45 L473.05,384.06 L473.3,383.76 L473.55,383.65 L473.8,384.3 L474.05,385.18 L474.3,385.02 L474.55,384.16 L474.81,386.48 L475.06,385.07 L475.31,385.73 L475.56,385.06 L475.81,385.44 L476.06,387.09 L476.31,385.73 L476.57,385.32 L476.82,386.34 L477.07,386.08 L477.32,387.94 L477.57,385.96 L477.82,388.61 L478.07,386.25 L478.33,388.72 L478.58,388.09 L478.83,386.82 L479.08,387.57 L479.33,387.04 L479.58,386.97 L479.83,386.95 L480.09,387.61 L480.34,389.56 L480.59,389.79 L480.84,389.78 L481.09,387.67 L481.34,388.46 L481.59,390.43 L481.85,388.35 L482.1,390.49 L482.35,389.55 L482.6,390.4 L482.86,391.66 L483.11,391.12 L483.37,390.49 L483.62,391.52 L483.88,393.18 L484.14,391.39 L484.39,392.2 L484.65,390.8 L484.9,390.73 L485.16,392.2 L485.41,391.85 L485.67,390.64 L485.93,390.75 L486.18,391.2 L486.44,393.1 L486.69,393.22 L486.95,393.03 L487.21,392.83 L487.46,393.96 L487.72,394.22 L487.97,394.5 L488.23,393.85 L488.49,392.81 L488.74,392.51 L489,394.47 L489.25,393.64 L489.51,394.6 L489.76,392.82 L490.02,395.16 L490.28,394.11 L490.53,395.81 L490.79,396.15 L491.04,395.4 L491.3,395.7 L491.55,396.61 L491.8,395.3 L492.05,394.71 L492.31,395.28 L492.56,395.89 L492.81,394.3 L493.06,396.2 L493.31,396.46 L493.56,397.11 L493.81,396.46 L494.07,398.58 L494.32,399.17 L494.57,399.31 L494.82,397.79 L495.07,398.89 L495.32,397.97 L495.57,399.01 L495.83,397.22 L496.08,399.78 L496.33,400.29 L496.58,399.29 L496.83,399.63 L497.08,399.97 L497.33,400.04 L497.59,398.54 L497.84,401.14 L498.09,399 L498.34,398.83 L498.59,398.55 L498.84,399.14 L499.09,400.96 L499.35,398.99 L499.6,399.41 L499.85,401.33 L500.1,401 L500.36,399.88 L500.61,402.03 L500.87,401.59 L501.12,399.71 L501.38,399.92 L501.64,400.97 L501.89,401.03 L502.15,400.45 L502.4,400.05 L502.66,400.88 L502.91,400.17 L503.17,401.66 L503.43,402.73 L503.68,401.04 L503.94,402.54 L504.19,403.33 L504.45,402.01 L504.71,403.96 L504.96,404.36 L505.22,402.92 L505.47,403.11 L505.73,404.37 L505.99,403.59 L506.24,403.31 L506.5,404.92 L506.75,404.54 L507.01,403.4 L507.26,403.21 L507.52,403.56 L507.78,403.94 L508.03,405.56 L508.29,405.16 L508.54,405.56 L508.8,404.5 L509.05,404.01 L509.3,404.7 L509.55,405.5 L509.81,404.95 L510.06,405.63 L510.31,404.53 L510.56,405.66 L510.81,405.97 L511.06,404.72 L511.31,405.17 L511.57,407.6 L511.82,407.08 L512.07,407.36 L512.32,406.33 L512.57,406.65 L512.82,406.69 L513.07,406.52 L513.33,404.18 L513.58,406.14 L513.83,405.35 L514.08,406.76 L514.33,405.89 L514.58,406.9 L514.83,408.22 L515.09,407.63 L515.34,406.84 L515.59,407.85 L515.84,407.85 L516.09,409.55 L516.34,407.69 L516.59,407.68 L516.85,408.58 L517.1,407.05 L517.35,408.32 L517.6,408 L517.85,407.2 L518.1,407.48 L518.35,408.19 L518.61,408.76 L518.86,408.69 L519.11,408.77 L519.36,408.28 L519.61,409.51 L519.86,410.28 L520.11,409.59 L520.37,409.43 L520.62,409.62 L520.87,408.38 L521.12,409.82 L521.37,409.14 L521.62,409.4 L521.87,409.59 L522.13,409.28 L522.38,409.01 L522.63,408.98 L522.88,409.09 L523.13,410.08 L523.38,409.88 L523.63,410.59 L523.89,409.1 L524.14,410.18 L524.39,411.73 L524.64,410.11 L524.89,411.12 L525.14,411.03 L525.39,410.54 L525.65,412.6 L525.9,410.75 L526.15,412.17 L526.4,411.5 L526.66,411.31 L526.91,412.12 L527.17,410.35 L527.42,410.66 L527.68,412.7 L527.94,412.09 L528.19,410.53 L528.45,411.11 L528.7,411.22 L528.96,412.2 L529.21,412.1 L529.47,413.04 L529.73,413.34 L529.98,412.88 L530.24,413.89 L530.49,414.29 L530.75,414.72 L531.01,413.87 L531.26,414.69 L531.52,414.43 L531.77,414.96 L532.03,412.7 L532.29,414.74 L532.54,412.28 L532.8,414.39 L533.05,413.85 L533.31,413.58 L533.56,414.85 L533.82,413.91 L534.08,413.74 L534.33,415.02 L534.59,415.53 L534.84,415.04 L535.1,415 L535.35,414.73 L535.6,415.23 L535.85,414.78 L536.1,414.64 L536.35,415.98 L536.6,416.22 L536.85,415.34 L537.1,415.29 L537.35,414.67 L537.6,415.11 L537.85,414.77 L538.1,416.06 L538.35,416.16 L538.6,414.86 L538.85,417.27 L539.1,415.68 L539.35,417.23 L539.6,417.39 L539.85,417.9 L540.1,415.96 L540.35,416.76 L540.6,418.29 L540.85,415.84 L541.1,415.94 L541.35,417.39 L541.6,417.19 L541.85,418.38 L542.1,417.2 L542.3,417.5 L542.5,460 L542.7,495.2 L542.8,495 L543.06,496.42 L543.33,494.91 L543.59,494.83 L543.85,495.26 L544.12,494.3 L544.38,494.03 L544.65,494.47 L544.91,493.47 L545.17,494.99 L545.44,493.9 L545.7,493.1 L545.96,493.08 L546.22,492.9 L546.48,493.61 L546.74,493.66 L547,492.02 L547.25,491.58 L547.51,491.76 L547.77,492.51 L548.03,490.17 L548.29,490.36 L548.55,490.85 L548.81,488.79 L549.07,489.12 L549.33,490.98 L549.59,490.4 L549.85,489.35 L550.1,487.99 L550.36,490.17 L550.62,489.39 L550.88,489.61 L551.14,489.94 L551.4,488.3 L551.65,488.22 L551.91,487.18 L552.16,487.08 L552.41,488.33 L552.67,488.16 L552.92,487.32 L553.17,488.86 L553.43,487.41 L553.68,485.26 L553.93,485.99 L554.19,486.74 L554.44,484.92 L554.69,485.77 L554.95,483.4 L555.2,483.99 L555.45,485.3 L555.71,484.22 L555.96,484.16 L556.21,482.57 L556.47,483.3 L556.72,483.29 L556.97,482.25 L557.23,483.22 L557.48,482.69 L557.73,483.94 L557.99,482.52 L558.24,481.88 L558.49,480.86 L558.75,480.82 L559,481.7 L559.26,481.64 L559.52,482.42 L559.78,481.67 L560.04,482.12 L560.3,479.77 L560.55,479.33 L560.81,481.15 L561.07,479.35 L561.33,480.07 L561.59,478.53 L561.85,477.52 L562.11,477.59 L562.37,476.87 L562.63,479.06 L562.89,477.88 L563.15,476.96 L563.4,477.11 L563.66,476.85 L563.92,475.78 L564.18,478.22 L564.44,477.22 L564.7,476.9 L564.96,475.53 L565.22,478.18 L565.48,477.95 L565.74,476.32 L566,478.07 L566.25,477.64 L566.51,475.74 L566.77,476.27 L567.03,476.98 L567.29,475.23 L567.55,476.23 L567.81,474 L568.07,474.33 L568.33,475.21 L568.59,473.62 L568.85,473.77 L569.1,475.31 L569.36,473.92 L569.62,474.63 L569.88,472.76 L570.14,472.34 L570.4,473.1 L570.65,473.08 L570.91,471.54 L571.16,472.6 L571.42,471.95 L571.67,471.8 L571.92,470.59 L572.18,470.56 L572.43,472.45 L572.68,470.82 L572.94,470.29 L573.19,469.92 L573.45,469.98 L573.7,469.63 L573.95,469.11 L574.21,471.08 L574.46,470.2 L574.72,469.73 L574.97,471.46 L575.22,469.7 L575.48,470.13 L575.73,471.52 L575.98,469.09 L576.24,469.74 L576.49,470.61 L576.75,470.22 L577,469 L577.26,469.06 L577.53,467.42 L577.79,468.56 L578.05,465.7 L578.32,467.32 L578.58,465.5 L578.85,464.31 L579.11,464.63 L579.37,463.31 L579.64,464.68 L579.9,463.7 L581.8,457.6 L583.7,459.9 L583.95,459.31 L584.21,458.74 L584.46,459.63 L584.72,458.25 L584.97,460.03 L585.23,457.59 L585.48,458.56 L585.74,458.61 L585.99,457.84 L586.25,459.38 L586.5,458.26 L586.75,459.13 L587.01,458.9 L587.26,458.17 L587.52,458.36 L587.77,457.2 L588.03,457.24 L588.28,459.02 L588.54,457.19 L588.79,457.97 L589.05,456.07 L589.3,457 L589.55,456.36 L589.81,456.03 L590.06,455.66 L590.31,457.36 L590.57,455.98 L590.82,456.27 L591.07,457.63 L591.33,457.07 L591.58,457.23 L591.83,457.01 L592.09,454.66 L592.34,454.93 L592.59,454.14 L592.85,456.05 L593.1,455.95 L593.35,454.97 L593.61,455.11 L593.86,455.8 L594.11,455.76 L594.37,454.24 L594.62,455.88 L594.87,454.23 L595.13,454.9 L595.38,453.4 L595.63,453.17 L595.89,455.54 L596.14,454.98 L596.39,454.89 L596.65,452.85 L596.9,454.2 L597.15,453.36 L597.4,454.07 L597.65,452.42 L597.9,454.13 L598.15,453.05 L598.4,453.22 L598.65,451.69 L598.9,452.14 L599.15,452.8 L599.4,451.71 L599.65,450.57 L599.9,452.99 L600.15,452.72 L600.4,451.13 L600.65,450.28 L600.9,452.6 L601.15,451.75 L601.4,449.95 L601.65,450.43 L601.9,449.94 L602.15,451.88 L602.4,450.05 L602.65,452.07 L602.9,451.48 L603.15,449.4 L603.4,451.12 L603.65,450.12 L603.9,451.08 L604.15,451.22 L604.4,449.47 L604.65,448.8 L604.9,451.27 L605.15,449.62 L605.4,451.05 L605.65,450.24 L605.9,450.29 L606.15,450.48 L606.4,449.4 L606.65,450.65 L606.9,448.22 L607.15,450.09 L607.4,447.9 L607.65,449.84 L607.9,450.12 L608.15,448.39 L608.4,449.11 L608.65,450.25 L608.9,449.13 L609.15,448.72 L609.4,447.71 L609.65,446.98 L609.9,447.68 L610.15,447.64 L610.4,446.81 L610.65,446.94 L610.9,446.22 L611.15,447.73 L611.4,447.75 L611.65,446.58 L611.9,446.72 L612.15,447.67 L612.4,447.59 L612.65,449.19 L612.9,447.38 L613.15,447.06 L613.4,448.66 L613.65,446.27 L613.9,447.38 L614.15,446.53 L614.4,447.85 L614.65,447 L614.9,447.59 L615.15,445.76 L615.4,447.2 L615.65,446.95 L615.9,446.6 L616.15,445.61 L616.4,445.06 L616.65,445.61 L616.9,445.24 L617.15,446.64 L617.4,445.77 L617.65,444.73 L617.9,445.36 L618.15,445.79 L618.4,445.46 L618.65,444.88 L618.9,444.58 L619.15,444.37 L619.4,447.24 L619.65,446.43 L619.9,444.35 L620.15,446.17 L620.4,446.88 L620.65,445.55 L620.9,443.86 L621.15,444.68 L621.4,444.19 L621.65,443.13 L621.9,443.86 L622.15,441.93 L622.4,444.52 L622.65,443.65 L622.9,443.56 L623.15,444.44 L623.4,443.54 L623.65,442.3 L623.9,442.24 L624.15,441.88 L624.4,441.52 L624.65,443.72 L624.9,443.89 L625.15,442.22 L625.4,442.8 L625.65,443.64 L625.9,443.23 L626.15,441.83 L626.4,441.26 L626.65,443.03 L626.9,441.37 L627.15,441.52 L627.4,442.16 L627.65,441.71 L627.9,443.19 L628.15,441.51 L628.4,441 L628.65,442.65 L628.9,442.85 L629.15,443.44 L629.4,443.11 L629.65,443.73 L629.9,443.86 L630.15,442.52 L630.4,442.52 L630.65,441.47 L630.9,441.87 L631.15,442.69 L631.4,441.16 L631.65,442.96 L631.9,441.18 L632.15,441.73 L632.4,443.02 L632.65,440.09 L632.9,439.66 L633.15,440.57 L633.4,439.64 L633.65,441.3 L633.9,439.19 L634.15,441.76 L634.4,441.86 L634.65,441.71 L634.9,440.9 L635.15,440.66 L635.4,441.28 L635.65,441.7 L635.9,441.87 L636.15,439.59 L636.4,439.92 L636.65,440.29 L636.9,440.57 L637.15,439.84 L637.4,439.3 L637.65,438.89 L637.9,439.53 L638.15,439.91 L638.4,441.52 L638.65,441.42 L638.9,441.37 L639.15,441.78 L639.4,441.83 L639.65,440.88 L639.9,441.37 L640.15,439.04 L640.4,440.8 L640.65,440.52 L640.9,439.5 L641.15,440.24 L641.4,441.31 L641.65,439.83 L641.9,440.26 L642.15,439.15 L642.4,439.22 L642.65,440.78 L642.9,438.16 L643.15,438.63 L643.4,440.08 L643.65,439.38 L643.9,438.28 L644.15,439.99 L644.4,439.5 L644.65,438.28 L644.9,438.41 L645.15,440.48 L645.4,439.39 L645.65,438.02 L645.9,440.2 L646.15,438.38 L646.4,437.95 L646.65,439.3 L646.9,438.5 L647.15,439.26 L647.4,439.5 L647.65,438.52 L647.9,439.48 L648.15,438.02 L648.4,439.15 L648.65,439.3 L648.9,437.7 L649.15,438.61 L649.4,437.62 L649.65,438.73 L649.9,440.01 L650.15,439.08 L650.4,439.59 L650.65,439.73 L650.9,437.8 L651.15,440.41 L651.4,439.59 L651.65,437.72 L651.9,439.89 L652.15,438.56 L652.4,437.88 L652.65,440.2 L652.9,438.97 L653.15,439.56 L653.4,437.6 L653.65,439.47 L653.9,438.6 L654.15,438.21 L654.41,439.43 L654.66,438.45 L654.91,439.04 L655.17,437.94 L655.42,438.86 L655.67,438.76 L655.93,436.7 L656.18,438.47 L656.43,437.3 L656.69,438.61 L656.94,438.4 L657.19,438.86 L657.44,436.78 L657.7,437.56 L657.95,438.68 L658.2,439.33 L658.46,438.62 L658.71,436.44 L658.96,437.98 L659.22,436.33 L659.47,437.54 L659.72,438.16 L659.98,436.11 L660.23,438.72 L660.48,438.15 L660.74,437.07 L660.99,437.06 L661.24,438 L661.5,439.15 L661.75,438.23 L662,436.68 L662.26,436.25 L662.51,436.37 L662.76,438.29 L663.01,436.41 L663.27,437.53 L663.52,436.75 L663.77,437.95 L664.03,437.04 L664.28,436.34 L664.53,438.58 L664.79,437.62 L665.04,438.12 L665.29,438.53 L665.55,439 L665.8,437.7" fill="none" stroke="#ff0000" stroke-width="1.45" stroke-linejoin="round" stroke-linecap="round" stroke-linejoin="miter"/>
<rect x="390" y="324.9" width="276.8" height="194.1" fill="none" stroke="#000" stroke-width="1.9"/>
<line x1="387.2" y1="508.8" x2="390" y2="508.8" stroke="#000" stroke-width="1.8"/>
<line x1="385" y1="487.1" x2="390" y2="487.1" stroke="#000" stroke-width="1.8"/>
<text transform="translate(365.01,491.70) scale(1.0300,1)" font-size="15.6" font-weight="normal">20</text>
<line x1="387.2" y1="465.4" x2="390" y2="465.4" stroke="#000" stroke-width="1.8"/>
<line x1="385" y1="443.7" x2="390" y2="443.7" stroke="#000" stroke-width="1.8"/>
<text transform="translate(365.17,448.30) scale(1.0300,1)" font-size="15.6" font-weight="normal">22</text>
<line x1="387.2" y1="422" x2="390" y2="422" stroke="#000" stroke-width="1.8"/>
<line x1="385" y1="400.3" x2="390" y2="400.3" stroke="#000" stroke-width="1.8"/>
<text transform="translate(364.85,404.90) scale(1.0300,1)" font-size="15.6" font-weight="normal">24</text>
<line x1="387.2" y1="378.6" x2="390" y2="378.6" stroke="#000" stroke-width="1.8"/>
<line x1="385" y1="356.9" x2="390" y2="356.9" stroke="#000" stroke-width="1.8"/>
<text transform="translate(365.01,361.50) scale(1.0300,1)" font-size="15.6" font-weight="normal">26</text>
<line x1="387.2" y1="335.2" x2="390" y2="335.2" stroke="#000" stroke-width="1.8"/>
<line x1="389.9" y1="519" x2="389.9" y2="523" stroke="#000" stroke-width="1.8"/>
<text transform="translate(385.40,538.60) scale(1.0300,1)" font-size="15.6" font-weight="normal">0</text>
<line x1="411.23" y1="519" x2="411.23" y2="521.4" stroke="#000" stroke-width="1.8"/>
<line x1="432.56" y1="519" x2="432.56" y2="523" stroke="#000" stroke-width="1.8"/>
<text transform="translate(423.56,538.60) scale(1.0300,1)" font-size="15.6" font-weight="normal">20</text>
<line x1="453.89" y1="519" x2="453.89" y2="521.4" stroke="#000" stroke-width="1.8"/>
<line x1="475.22" y1="519" x2="475.22" y2="523" stroke="#000" stroke-width="1.8"/>
<text transform="translate(466.46,538.60) scale(1.0300,1)" font-size="15.6" font-weight="normal">40</text>
<line x1="496.55" y1="519" x2="496.55" y2="521.4" stroke="#000" stroke-width="1.8"/>
<line x1="517.88" y1="519" x2="517.88" y2="523" stroke="#000" stroke-width="1.8"/>
<text transform="translate(508.88,538.60) scale(1.0300,1)" font-size="15.6" font-weight="normal">60</text>
<line x1="539.21" y1="519" x2="539.21" y2="521.4" stroke="#000" stroke-width="1.8"/>
<line x1="560.54" y1="519" x2="560.54" y2="523" stroke="#000" stroke-width="1.8"/>
<text transform="translate(551.62,538.60) scale(1.0300,1)" font-size="15.6" font-weight="normal">80</text>
<line x1="581.87" y1="519" x2="581.87" y2="521.4" stroke="#000" stroke-width="1.8"/>
<line x1="603.2" y1="519" x2="603.2" y2="523" stroke="#000" stroke-width="1.8"/>
<text transform="translate(589.46,538.60) scale(1.0300,1)" font-size="15.6" font-weight="normal">100</text>
<line x1="624.53" y1="519" x2="624.53" y2="521.4" stroke="#000" stroke-width="1.8"/>
<line x1="645.86" y1="519" x2="645.86" y2="523" stroke="#000" stroke-width="1.8"/>
<text transform="translate(632.12,538.60) scale(1.0300,1)" font-size="15.6" font-weight="normal">120</text>
<line x1="667.19" y1="519" x2="667.19" y2="521.4" stroke="#000" stroke-width="1.8"/>
<text transform="translate(497.15,563.80) scale(1.0429,1)" font-size="16.8" font-weight="normal">Time (s)</text>
<text transform="translate(359.30,488.15) rotate(-90) scale(0.9987,1)" font-size="17.5" font-weight="normal">Temperature (<tspan font-size="60%" dy="-0.82em">o</tspan><tspan dy="0.49em">C)</tspan></text>
<rect x="420" y="323.9" width="33" height="195.1" fill="#8fc46a" fill-opacity="0.4"/>
<text transform="translate(517.46,344.80) scale(1.0436,1)" font-size="14.8" font-weight="normal">@ 0.01 Hz 80 MV/m</text>
<text transform="translate(578.06,398.10) scale(1.0131,1)" font-size="14.3" font-weight="normal">voltage off</text>
<text transform="translate(426.25,494.90) scale(1.0166,1)" font-size="14.3" font-weight="normal">voltage on</text>
<line x1="573.1" y1="396.4" x2="550.79" y2="412.53" stroke="#4472c4" stroke-width="3.2"/><path d="M543.5,417.8 L548.97,408.29 L554.24,415.59 Z" fill="#4472c4"/>
<line x1="446.9" y1="478.7" x2="437.87" y2="455.58" stroke="#4472c4" stroke-width="3.2"/><path d="M434.6,447.2 L442.43,454.88 L434.05,458.15 Z" fill="#4472c4"/>
<text transform="translate(363.22,323.10) scale(0.9785,1)" font-size="25" font-weight="bold">C</text>
<path d="M428.3,508.2 L442.5,516.3 L399.4,587.1 L406.4,590.4 L383.4,595.4 L378.2,573.5 L385.5,577.6 Z" fill="#bdbdbd" fill-opacity="0.8"/>
<rect x="330.2" y="609.4" width="345.6" height="217.5" fill="#fddcbf"/>
<line x1="55.9" y1="671.4" x2="675" y2="671.4" stroke="#808080" stroke-width="2.6" stroke-dasharray="14.5 13.84"/>
<path d="M53.9,792.9 L57.9,794.2 L61.8,796.1 L65.8,796.8 L69.7,791.5 L73,792.9 L76.3,797.2 L79.6,795.5 L84.8,793.2 L88.1,794.8 L92,793.8 L96.6,796.1 L100.6,794.8 L103.9,792.9 L106.5,796.1 L111.1,796.1 L117,790.6 L119.6,796.1 L124.9,796.1 L128.8,792.9 L132.1,789.8 L134.7,797.2 L137.6,792.2 L141.6,796.1 L144.2,795.5 L147.5,795.9 L150.1,792.9 L155.4,792.2 L160.6,794.6 L163.9,792.9 L167.8,793.5 L173.1,791.9 L175.7,795.5 L179,794.2 L181.6,790.6 L184.9,796.1 L188.9,789.6 L191.5,789.8 L194.8,795.5 L198.7,792.2 L200.7,794.6 L204.6,789.6 L207.9,794.8 L210.5,793.5 L215.1,795.5 L219.7,792.5 L222.4,794.2 L224.8,793.9 L229.6,794.6 L236.1,793.6 L243.3,793.9 L245.7,795 L248.9,793.6 L252.1,793.4 L254.5,790.2 L257.7,792.3 L261.8,791 L266.6,796.7 L273.8,791.8 L277.8,796.2 L285,793 L291.5,796.2 L294.7,793 L299.5,791.4 L303.5,795.5 L309.1,790.7 L313.9,794.2 L318.8,795.8 L321.2,792.6 L322.8,783 L324.3,761 L325.5,720 L326.3,690 L327.9,671.5 L330.5,666.3 L334.5,662.3 L337.1,658.4 L339.7,660.5 L343.6,659.7 L346.3,657.9 L350.2,657.9 L352.8,656.3 L356.8,651 L359.4,651.8 L362,654.5 L364.7,654.5 L368.6,652.6 L372.5,651.8 L376.5,653.1 L381.7,651.8 L385.7,652.6 L389.6,651.8 L393.6,651.8 L398.8,651 L401.5,651.8 L405.4,655.8 L409.3,650 L412,652.6 L417.2,653.1 L422.5,656.3 L427.2,651.8 L430.4,657.9 L433,656.3 L436.9,658.4 L440.9,655.2 L446.1,655.8 L450.1,655.8 L452.7,658.4 L455.3,655.2 L460.6,656.6 L464.5,657.9 L468.4,659.7 L475,659.7 L479,659.7 L481.6,661 L485,662.3 L488.2,659.7 L493.4,660.5 L496,662.3 L500.4,659.4 L505.8,661.6 L512.6,668.4 L519.3,663.8 L524.7,663.8 L528.8,660.3 L531.5,667 L536.9,665.7 L543.6,663 L546.3,663.8 L551.7,669.2 L555.8,666.5 L561.2,667 L563.9,669.7 L567.9,667 L572,669.2 L576,668.4 L578.7,669.2 L584.1,666.5 L586.8,667 L590.9,673 L596.3,668.4 L601.7,673.8 L605.7,671.1 L611.1,671.9 L619.2,671.9 L624.6,674.6 L630,673.8 L634.1,677.8 L638.1,673.8 L643.5,672.4 L647.6,676.5 L651.6,673.8 L657,673 L659.7,676.5 L663.8,673.8 L669.2,676.5 L675.4,677.8" fill="none" stroke="#ff0000" stroke-width="2.6" stroke-linejoin="round" stroke-linecap="round" />
<rect x="55.9" y="609.4" width="619.9" height="217.5" fill="none" stroke="#000" stroke-width="2"/>
<line x1="51" y1="826.4" x2="55.9" y2="826.4" stroke="#000" stroke-width="2"/>
<line x1="46.7" y1="795.4" x2="55.9" y2="795.4" stroke="#000" stroke-width="2"/>
<text transform="translate(22.17,799.90) scale(1.0300,1)" font-size="15.6" font-weight="normal">22</text>
<line x1="51" y1="764.4" x2="55.9" y2="764.4" stroke="#000" stroke-width="2"/>
<line x1="46.7" y1="733.4" x2="55.9" y2="733.4" stroke="#000" stroke-width="2"/>
<text transform="translate(21.85,737.90) scale(1.0300,1)" font-size="15.6" font-weight="normal">24</text>
<line x1="51" y1="702.4" x2="55.9" y2="702.4" stroke="#000" stroke-width="2"/>
<line x1="46.7" y1="671.4" x2="55.9" y2="671.4" stroke="#000" stroke-width="2"/>
<text transform="translate(22.01,675.90) scale(1.0300,1)" font-size="15.6" font-weight="normal">26</text>
<line x1="51" y1="640.4" x2="55.9" y2="640.4" stroke="#000" stroke-width="2"/>
<line x1="46.7" y1="609.4" x2="55.9" y2="609.4" stroke="#000" stroke-width="2"/>
<text transform="translate(22.01,613.90) scale(1.0300,1)" font-size="15.6" font-weight="normal">28</text>
<line x1="55.9" y1="826.9" x2="55.9" y2="831.5" stroke="#000" stroke-width="2"/>
<line x1="97.25" y1="826.9" x2="97.25" y2="836.1" stroke="#000" stroke-width="2"/>
<text transform="translate(88.01,855.00) scale(1.0300,1)" font-size="15.6" font-weight="normal">16</text>
<line x1="138.6" y1="826.9" x2="138.6" y2="831.5" stroke="#000" stroke-width="2"/>
<line x1="179.95" y1="826.9" x2="179.95" y2="836.1" stroke="#000" stroke-width="2"/>
<text transform="translate(170.71,855.00) scale(1.0300,1)" font-size="15.6" font-weight="normal">18</text>
<line x1="221.3" y1="826.9" x2="221.3" y2="831.5" stroke="#000" stroke-width="2"/>
<line x1="262.65" y1="826.9" x2="262.65" y2="836.1" stroke="#000" stroke-width="2"/>
<text transform="translate(253.65,855.00) scale(1.0300,1)" font-size="15.6" font-weight="normal">20</text>
<line x1="304" y1="826.9" x2="304" y2="831.5" stroke="#000" stroke-width="2"/>
<line x1="345.35" y1="826.9" x2="345.35" y2="836.1" stroke="#000" stroke-width="2"/>
<text transform="translate(336.43,855.00) scale(1.0300,1)" font-size="15.6" font-weight="normal">22</text>
<line x1="386.7" y1="826.9" x2="386.7" y2="831.5" stroke="#000" stroke-width="2"/>
<line x1="428.05" y1="826.9" x2="428.05" y2="836.1" stroke="#000" stroke-width="2"/>
<text transform="translate(418.97,855.00) scale(1.0300,1)" font-size="15.6" font-weight="normal">24</text>
<line x1="469.4" y1="826.9" x2="469.4" y2="831.5" stroke="#000" stroke-width="2"/>
<line x1="510.75" y1="826.9" x2="510.75" y2="836.1" stroke="#000" stroke-width="2"/>
<text transform="translate(501.75,855.00) scale(1.0300,1)" font-size="15.6" font-weight="normal">26</text>
<line x1="552.1" y1="826.9" x2="552.1" y2="831.5" stroke="#000" stroke-width="2"/>
<line x1="593.45" y1="826.9" x2="593.45" y2="836.1" stroke="#000" stroke-width="2"/>
<text transform="translate(584.45,855.00) scale(1.0300,1)" font-size="15.6" font-weight="normal">28</text>
<line x1="634.8" y1="826.9" x2="634.8" y2="831.5" stroke="#000" stroke-width="2"/>
<line x1="676.15" y1="826.9" x2="676.15" y2="836.1" stroke="#000" stroke-width="2"/>
<text transform="translate(667.23,855.00) scale(1.0300,1)" font-size="15.6" font-weight="normal">30</text>
<text transform="translate(334.55,882.40) scale(1.0446,1)" font-size="16.8" font-weight="normal">Time (s)</text>
<text transform="translate(14.00,784.05) rotate(-90) scale(0.9926,1)" font-size="17.5" font-weight="normal">Temperature (<tspan font-size="60%" dy="-0.82em">o</tspan><tspan dy="0.49em">C)</tspan></text>
<text transform="translate(246.85,739.50) scale(1.0166,1)" font-size="14.3" font-weight="normal">voltage on</text>
<line x1="280.9" y1="748.8" x2="309.81" y2="778.36" stroke="#4472c4" stroke-width="3.2"/><path d="M316.1,784.8 L305.89,780.8 L312.33,774.5 Z" fill="#4472c4"/>
<text transform="translate(9.69,594.80) scale(0.9770,1)" font-size="25" font-weight="bold">D</text>
</svg></body></html>
